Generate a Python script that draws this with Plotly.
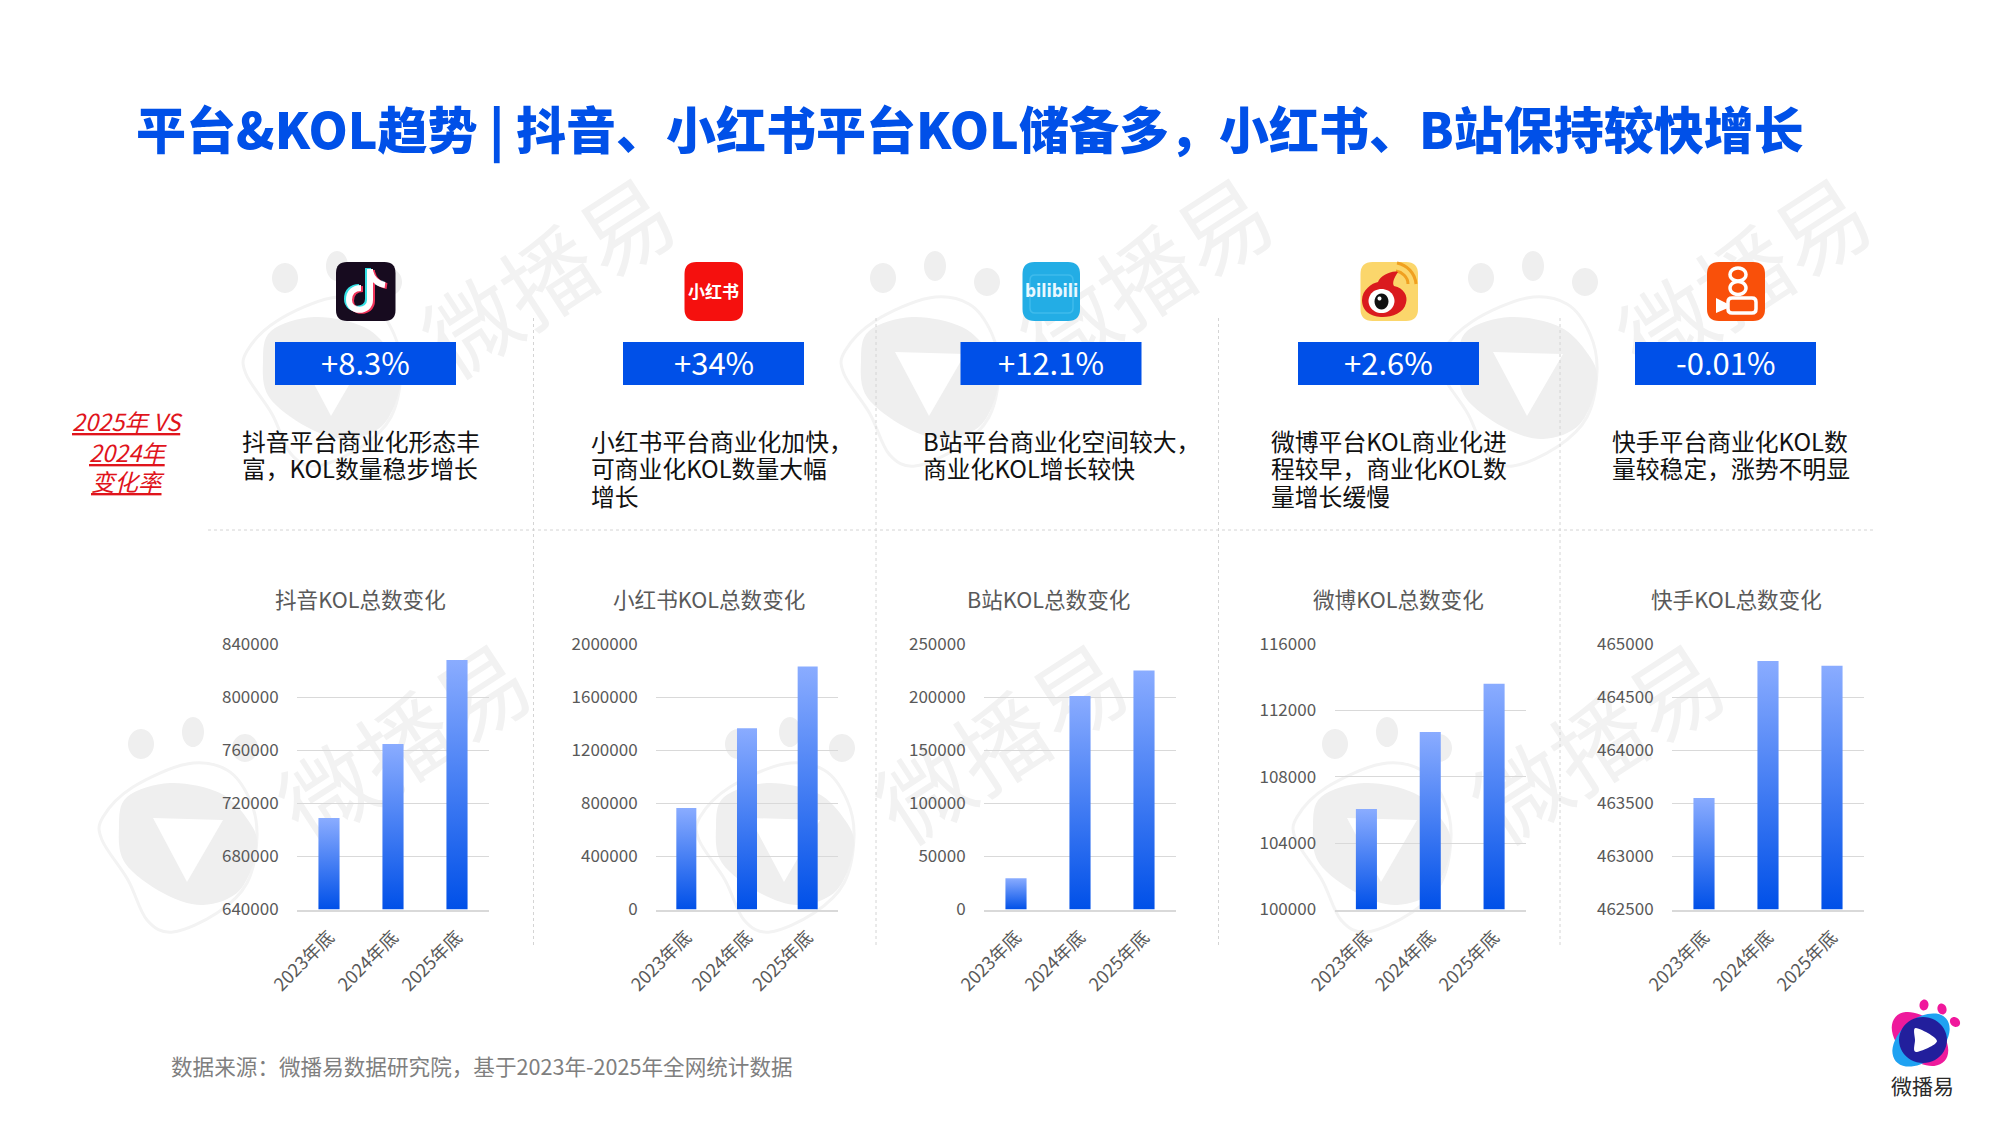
import math
import plotly.graph_objects as go

# ---- data ----
periods = ["2023年底", "2024年底", "2025年底"]
platforms = ["抖音", "小红书", "B站", "微博", "快手"]
douyin_kol = [708900, 764600, 828000]
xiaohongshu_kol = [764000, 1366000, 1830000]
bilibili_kol = [29500, 201000, 225000]
weibo_kol = [106050, 110700, 113600]
kuaishou_kol = [463550, 464840, 464795]
growth_labels = ["+8.3%", "+34%", "+12.1%", "+2.6%", "-0.01%"]
notes = [
    ["抖音平台商业化形态丰", "富，KOL数量稳步增长"],
    ["小红书平台商业化加快，", "可商业化KOL数量大幅", "增长"],
    ["B站平台商业化空间较大，", "商业化KOL增长较快"],
    ["微博平台KOL商业化进", "程较早，商业化KOL数", "量增长缓慢"],
    ["快手平台商业化KOL数", "量较稳定，涨势不明显"],
]
title_text = "平台&KOL趋势 | 抖音、小红书平台KOL储备多，小红书、B站保持较快增长"
source_text = "数据来源：微播易数据研究院，基于2023年-2025年全网统计数据"
side_lines = ["2025年 VS", "2024年", "变化率"]

series = [douyin_kol, xiaohongshu_kol, bilibili_kol, weibo_kol, kuaishou_kol]
axis_floor = [640000, 0, 0, 100000, 462500]
axis_ceil = [840000, 2000000, 250000, 116000, 465000]
axis_step = [40000, 400000, 50000, 4000, 500]

# ---- page geometry (pixels on a 2000x1125 page) ----
W, H = 2000, 1125
FONT = "Noto Sans CJK SC"
BLUE = "#0050E8"
plot_left = [297, 656, 984, 1334.5, 1672]
plot_right = [489, 838, 1176, 1526, 1864]
plot_top, plot_bottom = 644, 909.5
title_x = [360, 709, 1048, 1398, 1736]
box_left = [275, 623, 960.5, 1298, 1635]
box_width = 181
note_left = [240.5, 590, 921.5, 1270, 1610.5]


def px(x):
    return x / W


def py(y):
    return 1 - y / H


def path(cmds):
    """Convert an SVG path in page pixels to paper coordinates."""
    out, is_x = [], True
    for tok in cmds.split():
        if tok.isalpha():
            out.append(tok)
            is_x = True
        else:
            v = float(tok)
            out.append(f"{px(v) if is_x else py(v):.5f}")
            is_x = not is_x
    return " ".join(out)


def nudge(cmds, ox, oy):
    """Offset an SVG path by a few pixels."""
    out, is_x = [], True
    for tok in cmds.split():
        if tok.isalpha():
            out.append(tok)
            is_x = True
        else:
            out.append(str(float(tok) + (ox if is_x else oy)))
            is_x = not is_x
    return " ".join(out)


def smooth(points):
    """Closed Catmull-Rom outline through the given pixel points."""
    n = len(points)
    d = f"M {points[0][0]} {points[0][1]}"
    for i in range(n):
        p0, p1, p2, p3 = (points[(i + k - 1) % n] for k in range(4))
        c1 = (p1[0] + (p2[0] - p0[0]) / 6, p1[1] + (p2[1] - p0[1]) / 6)
        c2 = (p2[0] - (p3[0] - p1[0]) / 6, p2[1] - (p3[1] - p1[1]) / 6)
        d += f" C {c1[0]:.2f} {c1[1]:.2f} {c2[0]:.2f} {c2[1]:.2f} {p2[0]:.2f} {p2[1]:.2f}"
    return d + " Z"


def tilted_ellipse(cx, cy, rx, ry, deg):
    a = math.radians(deg)
    pts = []
    for k in range(12):
        t = 2 * math.pi * k / 12
        ex, ey = rx * math.cos(t), ry * math.sin(t)
        pts.append((cx + ex * math.cos(a) - ey * math.sin(a),
                    cy + ex * math.sin(a) + ey * math.cos(a)))
    return smooth(pts)


def round_rect(x0, y0, x1, y1, r):
    return (f"M {x0+r} {y0} L {x1-r} {y0} Q {x1} {y0} {x1} {y0+r} L {x1} {y1-r} "
            f"Q {x1} {y1} {x1-r} {y1} L {x0+r} {y1} Q {x0} {y1} {x0} {y1-r} "
            f"L {x0} {y0+r} Q {x0} {y0} {x0+r} {y0} Z")


shapes, annotations = [], []


def fill(cmds, color):
    shapes.append(dict(type="path", path=path(cmds), fillcolor=color,
                       line=dict(width=0), layer="below", xref="paper", yref="paper"))


def stroke(cmds, color, width, fillcolor="rgba(0,0,0,0)"):
    shapes.append(dict(type="path", path=path(cmds), fillcolor=fillcolor,
                       line=dict(color=color, width=width), layer="below",
                       xref="paper", yref="paper"))


def dotted(x0, y0, x1, y1):
    shapes.append(dict(type="line", x0=px(x0), y0=py(y0), x1=px(x1), y1=py(y1),
                       xref="paper", yref="paper", layer="below",
                       line=dict(color="#D4D4D4", width=1, dash="dot")))


def text(x, y, s, size, color, anchor="center", family=FONT, weight=None):
    font = dict(family=family, size=size, color=color)
    if weight:
        font["weight"] = weight
    annotations.append(dict(x=px(x), y=py(y), xref="paper", yref="paper", text=s,
                            showarrow=False, xanchor=anchor, yanchor="middle",
                            font=font, borderpad=0))


# ---- faint brand watermark, behind everything ----
def watermark(dx, dy):
    shade, rim, word = "#EFEFEF", "#F3F3F3", "#F2F2F2"
    outline = [(187, 764), (227, 770), (250, 800), (257, 837), (247, 883), (217, 913),
               (173, 932), (147, 920), (128, 880), (102, 840), (103, 817), (133, 787)]
    core = [(170, 783), (220, 793), (248, 820), (257, 847), (240, 890), (203, 905),
            (163, 893), (125, 863), (119, 827), (127, 797)]
    tip = [(153, 818), (223, 820), (187, 882)]
    shift = lambda pts: [(a + dx, b + dy) for a, b in pts]
    stroke(smooth(shift(outline)), rim, 3)
    fill(smooth(shift(core)), shade)
    a, b, c = shift(tip)
    fill(f"M {a[0]} {a[1]} L {b[0]} {b[1]} L {c[0]} {c[1]} Z", "#FFFFFF")
    for cx, cy, rx, ry in [(141, 744, 13, 15), (193, 732, 11, 15), (245, 748, 13, 14)]:
        fill(tilted_ellipse(cx + dx, cy + dy, rx, ry, 0), shade)
    shapes.append(dict(type="rect", x0=px(270 + dx), x1=px(550 + dx), y0=py(666 + dy), y1=py(836 + dy),
                       xref="paper", yref="paper", layer="below",
                       fillcolor="rgba(0,0,0,0)", line=dict(width=0),
                       label=dict(text="微播易", textangle=-33, textposition="middle center",
                                  font=dict(family=FONT, size=92, color=word))))


for offset_x in (0, 597, 1194):
    watermark(offset_x, 0)
for offset_x in (144, 742, 1340):
    watermark(offset_x, -466)

# ---- dividers ----
for x in (533.5, 876, 1218.5, 1560):
    dotted(x, 318, x, 948)
dotted(208, 530, 1876, 530)

# ---- platform icons ----
# Douyin: the note is drawn three times with small offsets for the glitch colours
fill(round_rect(336, 262, 395.5, 321, 11), "#170B1F")
note_stem = "M 370 269 L 370 300 C 370 313 349 313 349 300 C 349 292 354 288 361 288"
note_flag = "M 370 271 C 372 279 378 284 385 285"
for ox, oy, c in [(-2, -1, "#35E0E4"), (2, 1, "#F0345A"), (0, 0, "#FFFFFF")]:
    for d in (note_stem, note_flag):
        stroke(nudge(d, ox, oy), c, 6)

# Xiaohongshu
fill(round_rect(684.5, 262, 743, 321, 12), "#F5100E")
text(713.7, 291, "<b>小红书</b>", 17, "#FFFFFF", weight=900)

# Bilibili
fill(round_rect(1022.5, 262, 1080, 321, 12), "#23ADE5")
stroke(round_rect(1030, 275, 1073, 313, 5), "#3FBBEC", 1.5)
text(1051.2, 291, "<b>bilibili</b>", 17, "#EAF8FF", family="DejaVu Sans Condensed")

# Weibo
fill(round_rect(1360.5, 262, 1418, 321, 12), "#FBD66B")
stroke("M 1397 263 C 1407 265 1415 273 1416 284", "#F0A020", 3)
stroke("M 1396 271 C 1402 272 1408 277 1408 284", "#F0A020", 3)
fill("M 1362 300 C 1362 290 1372 283 1378 282 C 1380 276 1392 270 1398 272 C 1394 278 1392 283 1394 286 "
     "C 1404 288 1408 296 1406 303 C 1404 313 1392 317 1383 317 C 1372 317 1362 312 1362 300 Z", "#DA1A1E")
fill(tilted_ellipse(1381.5, 301, 13, 12, 0), "#FFFFFF")
fill(tilted_ellipse(1381.5, 301.5, 7, 8, 0), "#111111")
fill(tilted_ellipse(1379.5, 298.5, 2, 2, 0), "#FFFFFF")

# Kuaishou
fill(round_rect(1707, 262, 1765, 321, 12), "#F9500A")
stroke(tilted_ellipse(1738, 274.5, 8, 6.5, 0), "#FFFFFF", 3.5)
stroke(tilted_ellipse(1738, 288, 8, 6.5, 0), "#FFFFFF", 3.5)
stroke(round_rect(1728, 298, 1756, 313, 4), "#FFFFFF", 3.5)
fill("M 1716 298 L 1728 304 L 1728 308 L 1716 313 Z", "#FFFFFF")

# ---- brand mark in the corner ----
for cx, cy, deg in [(1924, 1005, 10), (1942, 1009, -20), (1955, 1022, -50)]:
    fill(tilted_ellipse(cx, cy, 4.5, 5.5, deg), "#F0189C")
fill(tilted_ellipse(1920, 1039, 33, 21, 42), "#EE1A9C")
fill(tilted_ellipse(1921, 1040, 33, 21, -40), "#1FA2F2")
fill(tilted_ellipse(1923, 1040, 24, 23, 0), "#221F9C")
fill(smooth([(1916, 1028), (1937, 1041), (1916, 1052), (1915, 1040)]), "#FFFFFF")
text(1922, 1085, "微播易", 21, "#2A2A2A")

# ---- headline, change-rate boxes, notes ----
text(135, 127.5, title_text, 50, BLUE, anchor="left", weight=900)

for i, label in enumerate(growth_labels):
    shapes.append(dict(type="rect", x0=px(box_left[i]), x1=px(box_left[i] + box_width),
                       y0=py(342), y1=py(385), xref="paper", yref="paper", layer="below",
                       fillcolor=BLUE, line=dict(width=0)))
    text(box_left[i] + box_width / 2, 361.5, label, 31, "#FFFFFF")
    for j, line in enumerate(notes[i]):
        text(note_left[i], 440 + 27.7 * j, line, 23.8, "#111111", anchor="left")
    text(title_x[i], 598, f"{platforms[i]}KOL总数变化", 21.6, "#595959")

for y, line in zip((421, 452, 481), side_lines):
    text(127.5, y, f"<i><u>{line}</u></i>", 23.5, "#E0141C")

text(170, 1065, source_text, 21.6, "#7F7F7F", anchor="left")

# ---- the five column charts ----
fig = go.Figure()
layout_axes = {}
for i, values in enumerate(series):
    n = "" if i == 0 else str(i + 1)
    floor = axis_floor[i]
    fig.add_trace(go.Bar(
        x=periods, y=[v - floor for v in values], base=floor,
        xaxis=f"x{n}", yaxis=f"y{n}", width=0.33,
        marker=dict(color=BLUE, line=dict(width=0)),
        customdata=values, hovertemplate="%{customdata}<extra></extra>",
        showlegend=False,
    ))
    layout_axes[f"xaxis{n}"] = dict(
        domain=[px(plot_left[i]), px(plot_right[i])], anchor=f"y{n}",
        type="category", range=[-0.5, 2.5], tickangle=-45,
        tickfont=dict(family=FONT, size=18, color="#595959"),
        showgrid=False, showline=True, linecolor="#D9D9D9", linewidth=2,
        ticks="outside", ticklen=8, tickcolor="rgba(0,0,0,0)", zeroline=False,
    )
    layout_axes[f"yaxis{n}"] = dict(
        domain=[py(plot_bottom), py(plot_top)], anchor=f"x{n}",
        range=[floor, axis_ceil[i]], tick0=floor, dtick=axis_step[i], tickformat="d",
        tickfont=dict(family=FONT, size=17, color="#595959"),
        showgrid=True, gridcolor="#D9D9D9", gridwidth=1.3, showline=False, zeroline=False,
        ticks="outside", ticklen=14, tickcolor="rgba(0,0,0,0)",
    )

fig.update_layout(
    width=W, height=H, margin=dict(l=0, r=0, t=0, b=0, autoexpand=False),
    paper_bgcolor="#FFFFFF", plot_bgcolor="rgba(0,0,0,0)",
    shapes=shapes, annotations=annotations, showlegend=False, **layout_axes,
)

# Bars fade from a pale blue at the top to the brand blue at the base.
fade_bars = """
var gd = document.getElementById('{plot_id}');
var svg = gd.querySelector('.main-svg');
var ns = 'http://www.w3.org/2000/svg';
var grad = document.createElementNS(ns, 'linearGradient');
grad.setAttribute('id', 'bar-fade');
grad.setAttribute('x1', '0'); grad.setAttribute('y1', '0');
grad.setAttribute('x2', '0'); grad.setAttribute('y2', '1');
[['0', '#8AACFF'], ['1', '#0050E8']].forEach(function (s) {
  var stop = document.createElementNS(ns, 'stop');
  stop.setAttribute('offset', s[0]);
  stop.setAttribute('stop-color', s[1]);
  grad.appendChild(stop);
});
svg.querySelector('defs').appendChild(grad);
gd.querySelectorAll('.bars .point path').forEach(function (p) {
  p.style.fill = 'url(#bar-fade)';
});
"""

fig.write_html("out.html", post_script=fade_bars, config=dict(displayModeBar=False))
